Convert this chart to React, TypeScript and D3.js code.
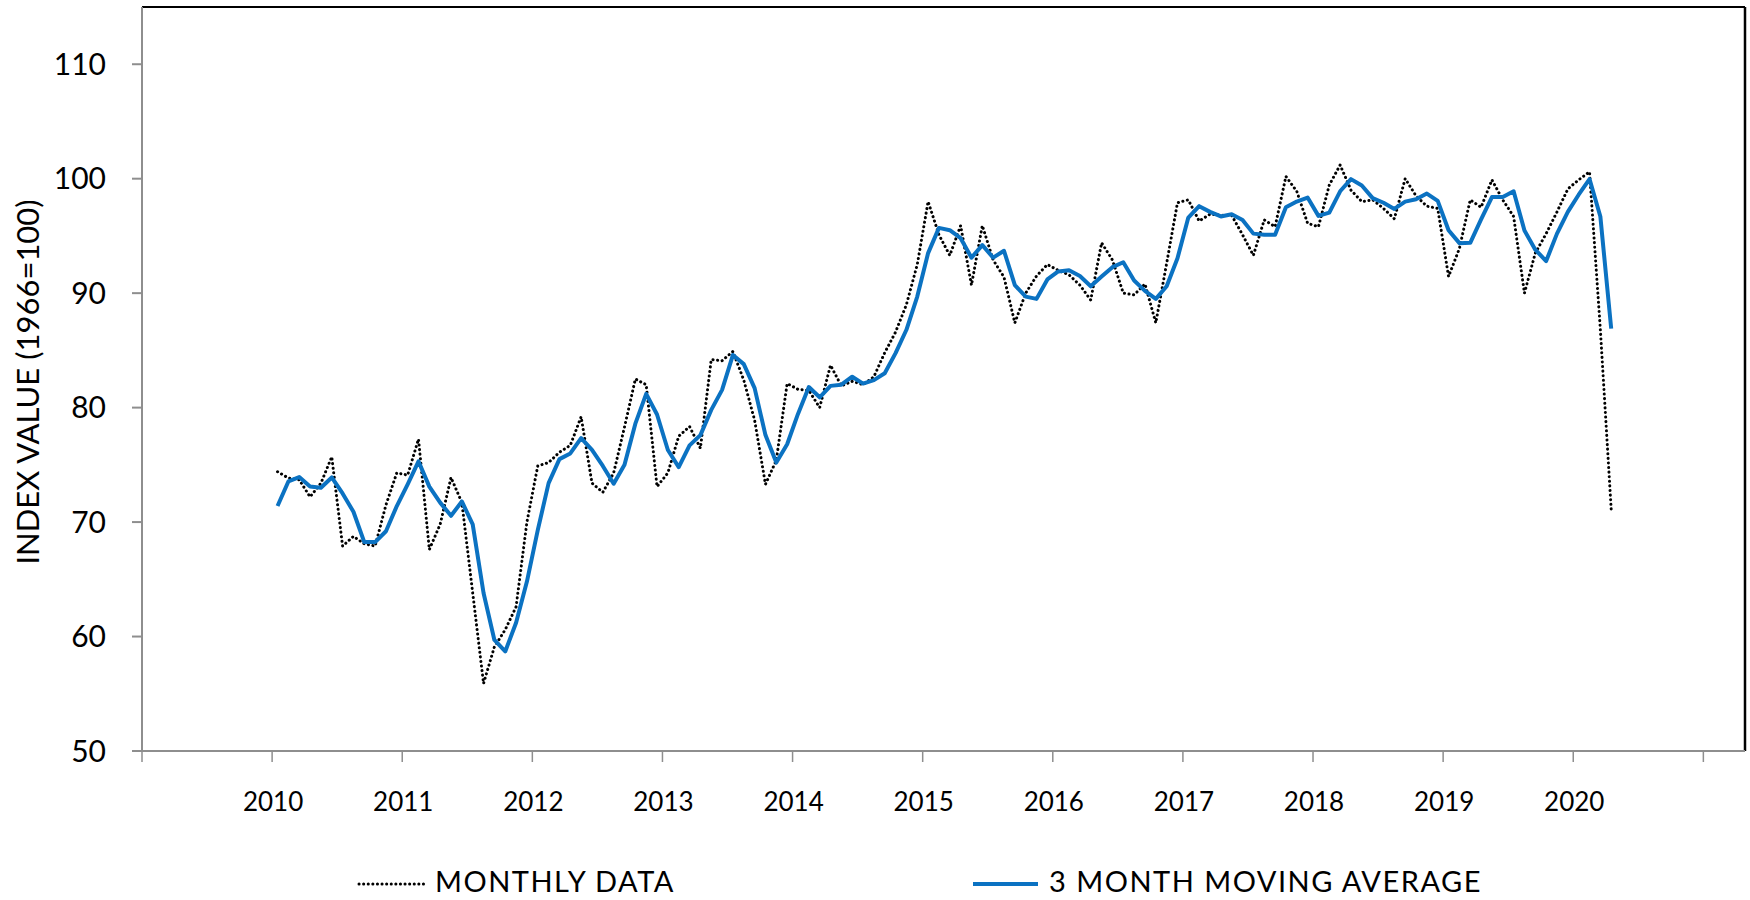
import React from 'react';
import * as d3 from 'd3';

// Monthly index values, Jan 2010 .. Apr 2020
const monthlyData = [
  74.4, 73.85, 73.7, 72.2, 73.4, 75.7, 67.9, 68.75, 68.1, 67.9, 71.5, 74.3,
  74.1, 77.25, 67.6, 69.8, 73.9, 71.7, 63.8, 55.9, 59.1, 60.6, 62.6, 70.0,
  74.9, 75.2, 76.1, 76.7, 79.2, 73.4, 72.6, 74.3, 78.3, 82.5, 82.0, 73.1,
  74.3, 77.5, 78.35, 76.45, 84.2, 84.1, 84.9, 82.4, 78.9, 73.3, 75.4, 82.1,
  81.6, 81.5, 80.0, 83.7, 81.9, 82.3, 82.0, 82.7, 84.8, 86.6, 89.0, 92.5,
  98.0, 95.1, 93.3, 95.9, 90.7, 95.9, 92.9, 91.4, 87.4, 90.0, 91.5, 92.5,
  92.0, 91.6, 90.7, 89.4, 94.4, 92.9, 90.0, 89.85, 90.8, 87.4, 92.6, 97.9,
  98.15, 96.3, 96.9, 96.8, 96.8, 95.1, 93.3, 96.4, 95.8, 100.2, 98.9, 96.1,
  95.8, 99.45, 101.2, 99.0, 98.0, 98.15, 97.4, 96.5, 100.0, 98.5, 97.6, 97.4,
  91.45, 93.9, 98.15, 97.5, 99.9, 98.15, 96.7, 90.0, 93.5, 95.2, 97.1, 99.1,
  99.9, 100.6, 86.8, 71.1,
];

// 3 month moving average, same months
const movingAverage = [
  71.4, 73.55, 73.93, 73.1, 73.0, 73.9, 72.5, 70.9, 68.25, 68.25, 69.2, 71.4,
  73.3, 75.3, 73.1, 71.7, 70.55, 71.8, 69.8, 63.8, 59.7, 58.7, 61.2, 64.8,
  69.3, 73.4, 75.5, 76.0, 77.33, 76.3, 74.9, 73.35, 75.0, 78.6, 81.2, 79.4,
  76.3, 74.8, 76.7, 77.6, 79.8, 81.55, 84.6, 83.8, 81.7, 77.6, 75.2, 76.8,
  79.45, 81.8, 80.9, 81.9, 82.0, 82.7, 82.1, 82.4, 83.0, 84.76, 86.8, 89.7,
  93.5, 95.7, 95.5, 94.8, 93.1, 94.2, 93.1, 93.7, 90.7, 89.7, 89.5, 91.2,
  91.9, 92.0, 91.5, 90.6, 91.45, 92.27, 92.7, 91.1, 90.2, 89.5, 90.6, 93.05,
  96.6, 97.6, 97.1, 96.7, 96.9, 96.4, 95.2, 95.1, 95.1, 97.5, 98.0, 98.35,
  96.75, 97.04, 98.9, 99.96, 99.4, 98.3, 97.9, 97.36, 98.0, 98.2, 98.7, 98.06,
  95.5, 94.37, 94.4, 96.45, 98.4, 98.4, 98.9, 95.47, 93.8, 92.8, 95.2, 97.1,
  98.6, 99.96, 96.7, 86.9,
];

const firstYear = 2010;
const tickYears = [2009, 2010, 2011, 2012, 2013, 2014, 2015, 2016, 2017, 2018, 2019, 2020, 2021];
const labelYears = [2010, 2011, 2012, 2013, 2014, 2015, 2016, 2017, 2018, 2019, 2020];
const yTicks = [50, 60, 70, 80, 90, 100, 110];

const FONT = 'Lato, "Open Sans", sans-serif';

const App = () => {
  const width = 1750;
  const height = 900;
  const left = 142;
  const right = 1745;
  const top = 7;
  const bottom = 751;

  const x = d3.scaleLinear().domain([2009, 2021.32]).range([left, right]);
  const y = d3.scaleLinear().domain([50, 115]).range([bottom, top]);

  // months are plotted at the middle of each month
  const monthX = (i: number) => x(firstYear + (i + 0.5) / 12);

  const line = d3
    .line<number>()
    .x((d, i) => monthX(i))
    .y(d => y(d));

  const axisColor = '#8e8e8e';
  const blue = '#0b72c2';
  const dots = { stroke: '#000', strokeWidth: 3, strokeDasharray: '0.1 4.5', strokeLinecap: 'round' as const };

  return (
    <svg
      width={width}
      height={height}
      style={{ position: 'absolute', left: 0, top: 0, display: 'block', background: '#fff' }}
    >
      {/* plot frame */}
      <line x1={left} x2={right} y1={top} y2={top} stroke="#000" strokeWidth={2} />
      <line x1={right} x2={right} y1={top} y2={bottom} stroke="#000" strokeWidth={2.5} />

      {/* y axis */}
      <line x1={left} x2={left} y1={top} y2={bottom} stroke={axisColor} strokeWidth={2} />
      {yTicks.map(t => (
        <g key={t}>
          <line x1={left - 10} x2={left} y1={y(t)} y2={y(t)} stroke={axisColor} strokeWidth={2} />
          <text
            x={106}
            y={y(t)}
            dy="0.36em"
            textAnchor="end"
            fontFamily={FONT}
            fontSize={30}
            fill="#000"
          >
            {t}
          </text>
        </g>
      ))}

      {/* x axis */}
      <line x1={left} x2={right} y1={bottom} y2={bottom} stroke={axisColor} strokeWidth={2} />
      {tickYears.map(t => (
        <line key={t} x1={x(t)} x2={x(t)} y1={bottom} y2={bottom + 11} stroke={axisColor} strokeWidth={1.5} />
      ))}
      {labelYears.map(t => (
        <text
          key={t}
          x={x(t) + 1}
          y={811}
          textAnchor="middle"
          fontFamily={FONT}
          fontSize={26}
          fill="#000"
        >
          {t}
        </text>
      ))}

      {/* y axis title */}
      <text
        transform="translate(27,382) rotate(-90)"
        textAnchor="middle"
        dominantBaseline="central"
        fontFamily={FONT}
        fontSize={31}
        fill="#000"
      >
        INDEX VALUE (1966=100)
      </text>

      {/* series */}
      <path d={line(monthlyData) || ''} fill="none" {...dots} />
      <path
        d={line(movingAverage) || ''}
        fill="none"
        stroke={blue}
        strokeWidth={4}
        strokeLinejoin="round"
      />

      {/* legend */}
      <line x1={359} x2={424} y1={884} y2={884} {...dots} />
      <text x={435} y={892} fontFamily={FONT} fontSize={29} letterSpacing={1.5} fill="#000">
        MONTHLY DATA
      </text>
      <line x1={973} x2={1038} y1={884} y2={884} stroke={blue} strokeWidth={4} />
      <text x={1049} y={892} fontFamily={FONT} fontSize={29} letterSpacing={1.5} fill="#000">
        3 MONTH MOVING AVERAGE
      </text>
    </svg>
  );
};

export default App;
